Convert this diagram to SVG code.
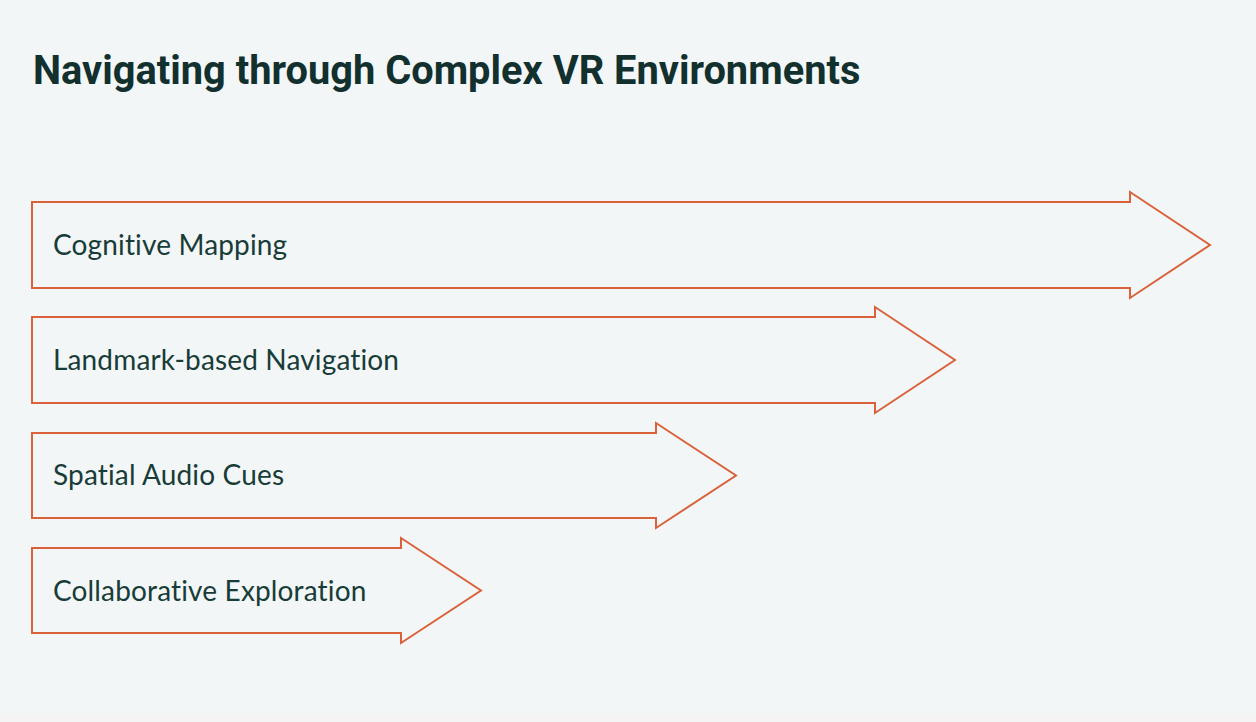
<svg xmlns="http://www.w3.org/2000/svg" width="1256" height="722" viewBox="0 0 1256 722">
<style>
.bg{fill:#f3f6f7}
.title{font-family:Roboto,"Liberation Sans",sans-serif;font-weight:700;font-size:39.8px;fill:#12302e}
.arrow{fill:#f3f6f7;stroke:#d9623b;stroke-width:2}
.label{font-family:Lato,"Liberation Sans",sans-serif;font-size:28px;fill:#183c38;font-variant-ligatures:none;letter-spacing:0.15px}
</style>
<rect x="0" y="0" width="1256" height="722" fill="#f4f4f5"/>
<rect class="bg" x="0" y="0" width="1256" height="714"/>
<text class="title" x="33" y="84">Navigating through Complex VR Environments</text>
<g id="connectors"></g>
<g id="node-cognitive-mapping">
<polygon class="arrow" points="32,202 1130,202 1130,192 1210,245 1130,298 1130,288 32,288"/>
<text class="label" x="53" y="255">Cognitive Mapping</text>
</g>
<g id="node-landmark-navigation">
<polygon class="arrow" points="32,317 875,317 875,307 955,360 875,413 875,403 32,403"/>
<text class="label" x="53" y="370">Landmark-based Navigation</text>
</g>
<g id="node-spatial-audio">
<polygon class="arrow" points="32,433 656,433 656,423 736,475.5 656,528 656,518 32,518"/>
<text class="label" x="53" y="485">Spatial Audio Cues</text>
</g>
<g id="node-collaborative-exploration">
<polygon class="arrow" points="32,548 401,548 401,538 481,590.5 401,643 401,633 32,633"/>
<text class="label" x="53" y="601">Collaborative Exploration</text>
</g>
</svg>
